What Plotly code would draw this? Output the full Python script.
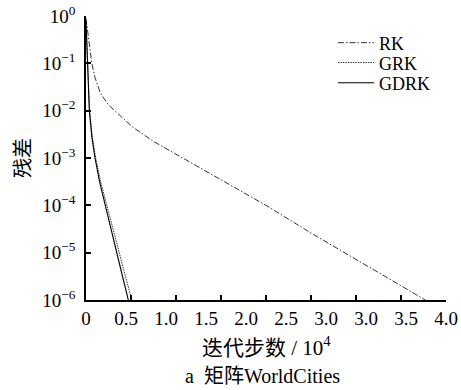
import numpy as np
import plotly.graph_objects as go

# ---- data (x in units of 10^4 iterations, y = residual) ----
rk_x = [0, 0.03, 0.065, 0.1, 0.16, 0.25, 0.32, 0.52, 0.75, 1.0, 1.5, 2.0, 2.5, 3.0, 3.5, 3.77]
rk_y = [0.89, 0.32, 0.1, 0.05, 0.0234, 0.0132, 0.01, 0.00447, 0.00224, 0.0012,
        3.4e-4, 1.0e-4, 2.6e-5, 7.1e-6, 2.0e-6, 1.0e-6]

grk_x = [0, 0.016, 0.04, 0.07, 0.108, 0.162, 0.216, 0.324, 0.432, 0.51]
grk_y = [0.79, 0.1, 0.01, 2.8e-3, 1.0e-3, 3.2e-4, 1.26e-4, 2.0e-5, 3.5e-6, 1.0e-6]

gdrk_x = [0, 0.015, 0.037, 0.065, 0.1, 0.15, 0.2, 0.3, 0.4, 0.47]
gdrk_y = [0.79, 0.1, 0.01, 2.8e-3, 1.0e-3, 3.2e-4, 1.26e-4, 2.0e-5, 3.5e-6, 1.0e-6]

x_tick_labels = ["0", "0.5", "1.0", "1.5", "2.0", "2.5", "3.0", "3.0", "3.5", "4.0"]
x_tick_marks = [0, 0.5, 1.0, 1.5, 2.0, 2.5, 3.0, 3.5, 4.0]
y_tick_vals = [1, 1e-1, 1e-2, 1e-3, 1e-4, 1e-5, 1e-6]
y_tick_text = ["10<sup>0</sup>", "10<sup>−1</sup>", "10<sup>−2</sup>", "10<sup>−3</sup>",
               "10<sup>−4</sup>", "10<sup>−5</sup>", "10<sup>−6</sup>"]

x_min, x_max = 0, 4.0
SERIF = "Liberation Serif, Noto Sans CJK SC"

fig = go.Figure()
fig.add_trace(go.Scatter(x=rk_x, y=rk_y, mode="lines", name="RK", legend="legend",
                         line=dict(color="#333333", width=1, dash="6px,2px,1.5px,2px")))
fig.add_trace(go.Scatter(x=grk_x, y=grk_y, mode="lines", name="GRK", legend="legend2",
                         line=dict(color="#333333", width=1, dash="1.5px,1px")))
fig.add_trace(go.Scatter(x=gdrk_x, y=gdrk_y, mode="lines", name="GDRK", legend="legend3",
                         line=dict(color="black", width=1.1)))
# empty trace to carry the label axis
fig.add_trace(go.Scatter(x=[], y=[], xaxis="x2", showlegend=False, hoverinfo="skip"))

label_pos = list(np.linspace(x_min, x_max, len(x_tick_labels)))

legend_style = dict(x=0.686, xanchor="left", yanchor="middle", itemwidth=36,
                    bgcolor="rgba(0,0,0,0)", borderwidth=0,
                    font=dict(family=SERIF, size=18))

fig.update_layout(
    width=461, height=390,
    margin=dict(l=86, r=15, t=16, b=90, autoexpand=False),
    paper_bgcolor="white", plot_bgcolor="white",
    font=dict(family=SERIF, size=17, color="black"),
    showlegend=True,
    legend=dict(y=0.905, **legend_style),
    legend2=dict(y=0.835, **legend_style),
    legend3=dict(y=0.764, **legend_style),
    xaxis=dict(range=[x_min, x_max], showgrid=False, zeroline=False, automargin=False,
               showline=True, linecolor="black", linewidth=1.5,
               tickmode="array", tickvals=x_tick_marks, showticklabels=False,
               ticks="inside", ticklen=5, tickwidth=1.5, tickcolor="black"),
    xaxis2=dict(range=[x_min, x_max], overlaying="x", anchor="y", side="bottom",
                showgrid=False, zeroline=False, showline=False, automargin=False,
                tickmode="array", tickvals=label_pos, ticktext=x_tick_labels,
                ticks="", ticklabelstandoff=5, tickfont=dict(family=SERIF, size=19)),
    yaxis=dict(type="log", range=[-6, 0], showgrid=False, zeroline=False, automargin=False,
               showline=True, linecolor="black", linewidth=1.5,
               tickmode="array", tickvals=y_tick_vals, ticktext=y_tick_text,
               ticks="inside", ticklen=5, tickwidth=1.5, tickcolor="black",
               tickfont=dict(family=SERIF, size=19), ticklabelstandoff=5,
               title=dict(text="残差", font=dict(family="Noto Sans CJK SC", size=20),
                          standoff=6)),
    annotations=[
        dict(text="迭代步数 / 10<sup>4</sup>", xref="paper", yref="paper",
             x=0.5, y=-0.165, xanchor="center", yanchor="middle", showarrow=False,
             font=dict(family=SERIF, size=21)),
        dict(text="a  矩阵WorldCities", xref="paper", yref="paper",
             x=0.49, y=-0.268, xanchor="center", yanchor="middle", showarrow=False,
             font=dict(family=SERIF, size=20)),
    ],
)

fig.write_html("out.html", config={"displayModeBar": False},
               post_script="document.body.style.margin='0';")
